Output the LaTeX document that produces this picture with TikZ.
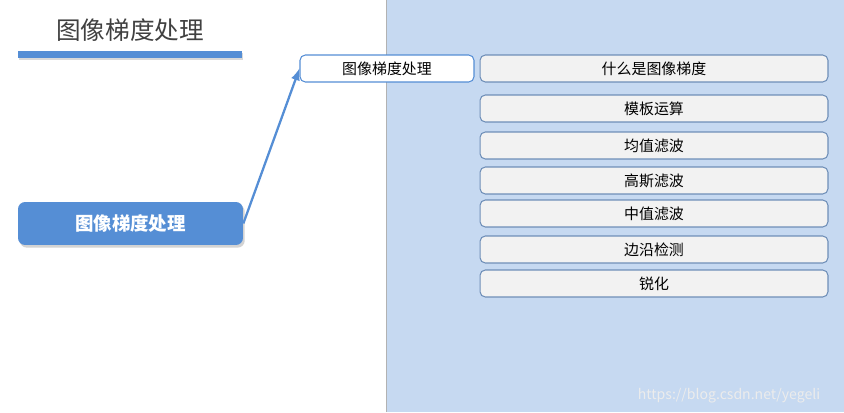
\documentclass[tikz,border=0pt]{standalone}
\usepackage{fontspec}
\setmainfont{Noto Sans CJK SC}
\usetikzlibrary{shadows}
\definecolor{panel}{HTML}{C6D9F1}
\definecolor{bluebar}{HTML}{558ED5}
\definecolor{itemfill}{HTML}{F2F2F2}
\definecolor{itemdraw}{HTML}{6F8FB8}
\tikzset{
  item/.style={draw=itemdraw,fill=itemfill,rounded corners=3pt,minimum width=6.96cm,minimum height=0.54cm,inner sep=0pt,font=\fontsize{8.5}{10}\selectfont,line width=0.6pt},
}
\begin{document}
\begin{tikzpicture}[x=0.02cm,y=-0.02cm]
\useasboundingbox (0,0) rectangle (844,412);
\fill[panel] (386,0) rectangle (844,412);
\draw[gray!60] (386,0) -- (386,412);
\node[text=black!75,font=\fontsize{14}{16}\selectfont] (title) at (130,30) {图像梯度处理};
\fill[bluebar,drop shadow={opacity=0.3,shadow xshift=0.5pt,shadow yshift=-1pt}] (18,51) rectangle (242,58);
\node[fill=bluebar,rounded corners=4pt,minimum width=4.5cm,minimum height=0.86cm,text=white,font=\bfseries\fontsize{10.5}{12}\selectfont,drop shadow={opacity=0.35,shadow xshift=1pt,shadow yshift=-1.5pt}] (main) at (130.5,223.5) {图像梯度处理};
\node[draw=bluebar,fill=white,rounded corners=3pt,minimum width=3.48cm,minimum height=0.54cm,inner sep=0pt,font=\fontsize{8.5}{10}\selectfont,line width=0.6pt] (top) at (387,68.5) {图像梯度处理};
\draw[bluebar,line width=1.3pt,-latex] (main.east) -- (top.west);
\node[item] (i1) at (654,68.5) {什么是图像梯度};
\node[item] (i2) at (654,108.5) {模板运算};
\node[item] (i3) at (654,145.5) {均值滤波};
\node[item] (i4) at (654,180.5) {高斯滤波};
\node[item] (i5) at (654,213.5) {中值滤波};
\node[item] (i6) at (654,249.5) {边沿检测};
\node[item] (i7) at (654,283.5) {锐化};
\node[text=white!85!gray,font=\fontsize{8}{10}\selectfont] (wm) at (729,396) {https://blog.csdn.net/yegeli};
\end{tikzpicture}
\end{document}
